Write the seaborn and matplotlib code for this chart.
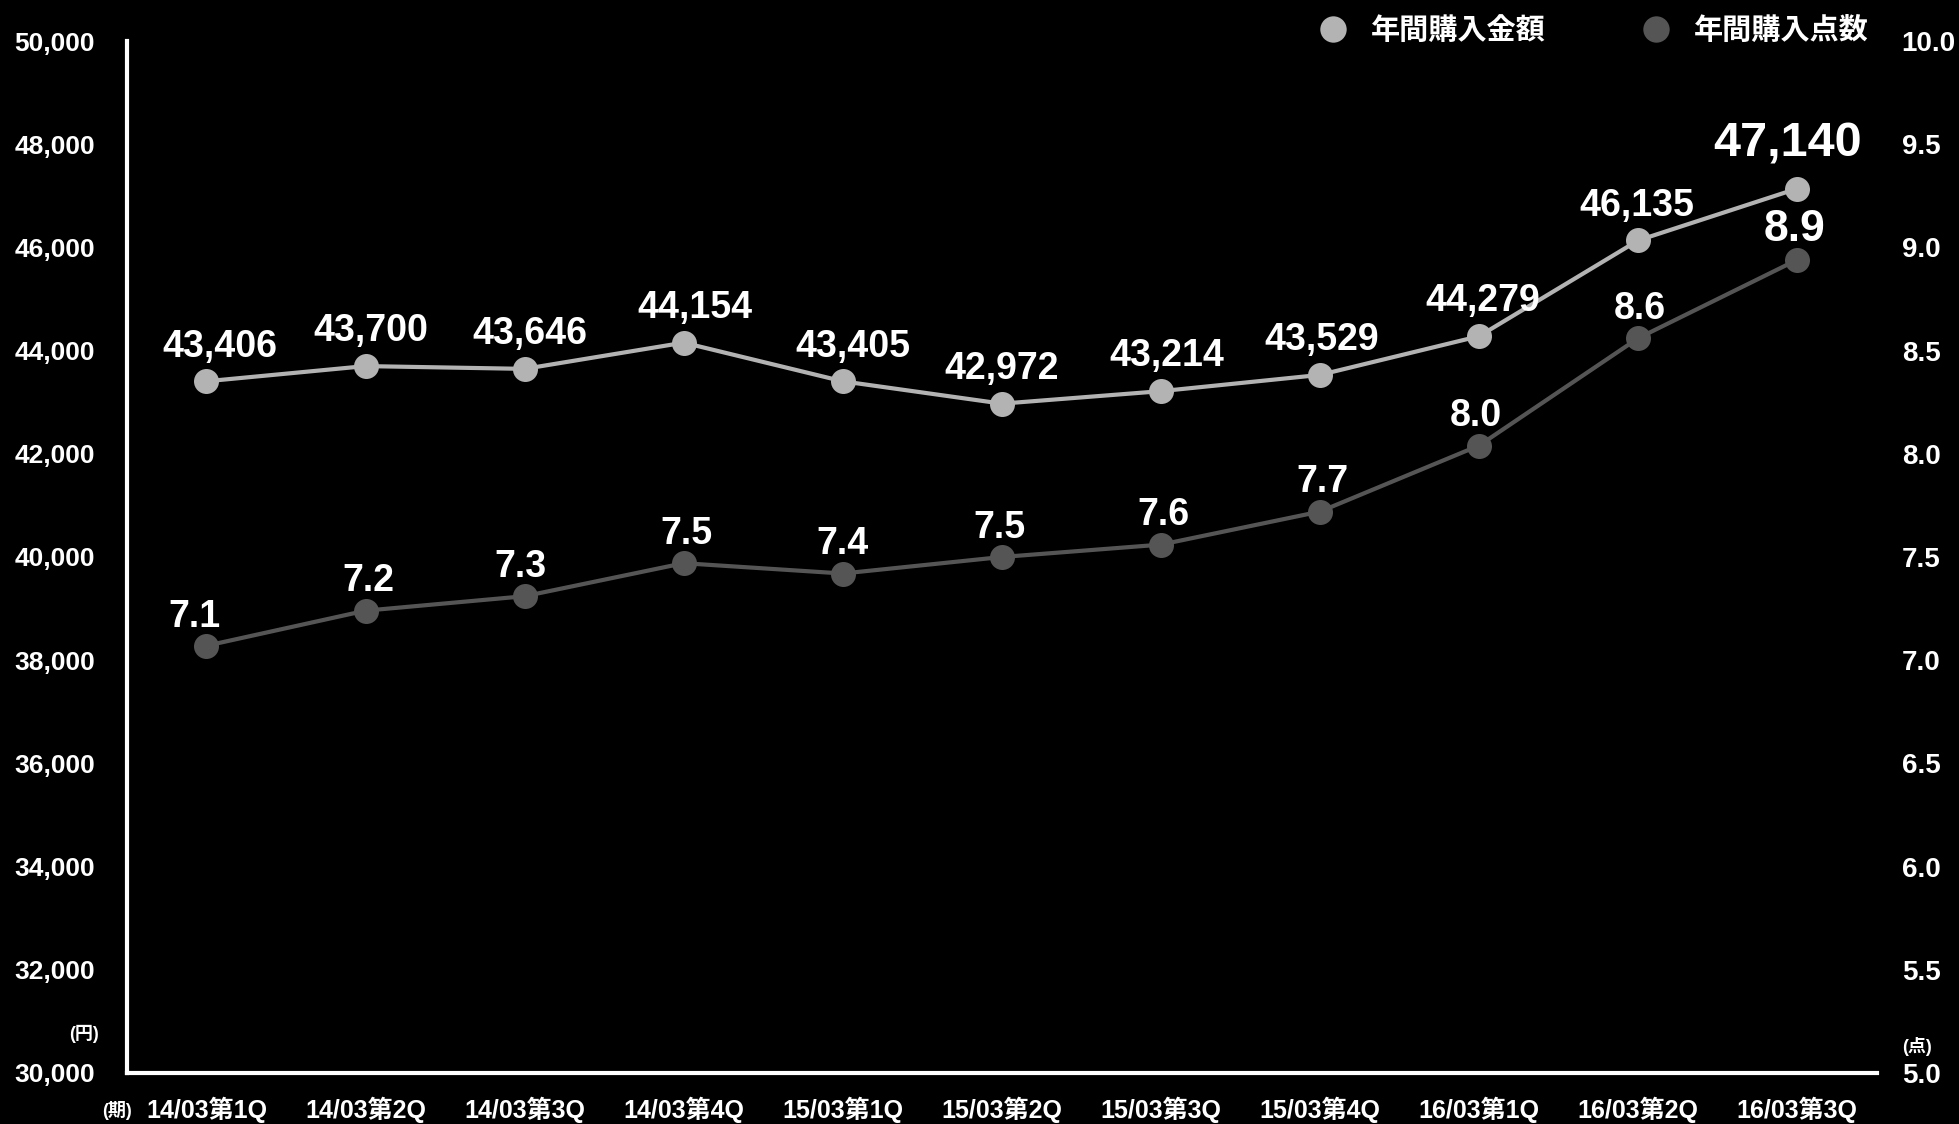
import numpy as np
import pandas as pd
import matplotlib
matplotlib.use("Agg")
import matplotlib.pyplot as plt
from matplotlib.lines import Line2D
import seaborn as sns

periods = ["14/03第1Q", "14/03第2Q", "14/03第3Q", "14/03第4Q", "15/03第1Q", "15/03第2Q",
           "15/03第3Q", "15/03第4Q", "16/03第1Q", "16/03第2Q", "16/03第3Q"]
amount = [43406, 43700, 43646, 44154, 43405, 42972, 43214, 43529, 44279, 46135, 47140]
items = [7.07, 7.24, 7.31, 7.47, 7.42, 7.50, 7.56, 7.72, 8.04, 8.56, 8.94]
series_names = ["年間購入金額", "年間購入点数"]

light = "#b3b3b3"
dark = "#555555"

sns.set_theme(style="white")
plt.rcParams["font.family"] = ["Liberation Sans", "Noto Sans CJK JP", "DejaVu Sans"]
plt.rcParams["font.weight"] = "bold"

df = pd.DataFrame({"pos": np.arange(len(periods)), "period": periods,
                   "amount": amount, "items": items})

fig = plt.figure(figsize=(19.59, 11.24), dpi=100, facecolor="black")
ax = fig.add_axes([0.0648, 0.0454, 0.8932, 0.9181])
ax.set_facecolor("black")
ax2 = ax.twinx()

sns.lineplot(data=df, x="pos", y="amount", ax=ax, color=light, linewidth=3,
             marker="o", markersize=18, markeredgewidth=0, sort=False, zorder=3)
sns.lineplot(data=df, x="pos", y="items", ax=ax2, color=dark, linewidth=3,
             marker="o", markersize=18, markeredgewidth=0, sort=False, zorder=3)

ax.set_xlim(-0.5, 10.5)
ax.set_ylim(30000, 50000)
ax2.set_ylim(5.0, 10.0)
ax.set_yticks(np.arange(30000, 50001, 2000))
ax.set_yticklabels([f"{v:,}" for v in range(30000, 50001, 2000)])
ax2.set_yticks(np.arange(5.0, 10.01, 0.5))
ax2.set_yticklabels([f"{v:.1f}" for v in np.arange(5.0, 10.01, 0.5)])
ax.set_xticks(df["pos"])
ax.set_xticklabels(periods)
ax.set_xlabel("")
ax.set_ylabel("")
ax2.set_ylabel("")

for a in (ax, ax2):
    for s in a.spines.values():
        s.set_visible(False)
    a.grid(False)
ax.spines["left"].set_visible(True)
ax.spines["bottom"].set_visible(True)
ax.spines["left"].set_color("white")
ax.spines["bottom"].set_color("white")
ax.spines["left"].set_linewidth(3)
ax.spines["bottom"].set_linewidth(3)

ax.tick_params(axis="y", length=0, pad=23, labelsize=19, labelcolor="white")
ax.tick_params(axis="x", length=0, pad=17, labelsize=18, labelcolor="white")
ax2.tick_params(axis="y", length=0, pad=18, labelsize=20, labelcolor="white")
for lab in ax.get_xticklabels() + ax.get_yticklabels() + ax2.get_yticklabels():
    lab.set_fontweight("bold")

# value labels
amount_dx = [10, 4, 4, 8, 7, 0, 4, 1, 3, -1, -7]
for i, v in enumerate(amount):
    last = i == len(amount) - 1
    ax.annotate(f"{v:,}", (i, v), xytext=(amount_dx[i], 32 if last else 25),
                textcoords="offset points", ha="center", va="center",
                fontsize=35 if last else 27, fontweight="bold", color="white", zorder=5)
items_dx = [-9, 2, -3, 2, 0, -2, 2, 2, -2, 1, -2]
for i, v in enumerate(items):
    last = i == len(items) - 1
    ax2.annotate(f"{v:.1f}", (i, v), xytext=(items_dx[i], 22 if last else 21),
                 textcoords="offset points", ha="center", va="center",
                 fontsize=32 if last else 27, fontweight="bold", color="white", zorder=5)

# unit notes
fig.text(84 / 1959, 1 - 1034 / 1124, "(円)", color="white", fontsize=13,
         fontweight="bold", ha="center", va="center")
fig.text(117 / 1959, 1 - 1110 / 1124, "(期)", color="white", fontsize=13,
         fontweight="bold", ha="center", va="center")
fig.text(1917 / 1959, 1 - 1047 / 1124, "(点)", color="white", fontsize=13,
         fontweight="bold", ha="center", va="center")

handles = [Line2D([], [], linestyle="none", marker="o", markersize=19, color=light, markeredgewidth=0),
           Line2D([], [], linestyle="none", marker="o", markersize=19, color=dark, markeredgewidth=0)]
leg = fig.legend(handles, series_names, loc="center right", bbox_to_anchor=(1895 / 1959, 1 - 31 / 1124),
                 ncol=2, frameon=False, handletextpad=0.3, columnspacing=2.8,
                 prop={"size": 21, "weight": "bold"})
for t in leg.get_texts():
    t.set_color("white")

fig.savefig("out.png", dpi=100, facecolor="black")
